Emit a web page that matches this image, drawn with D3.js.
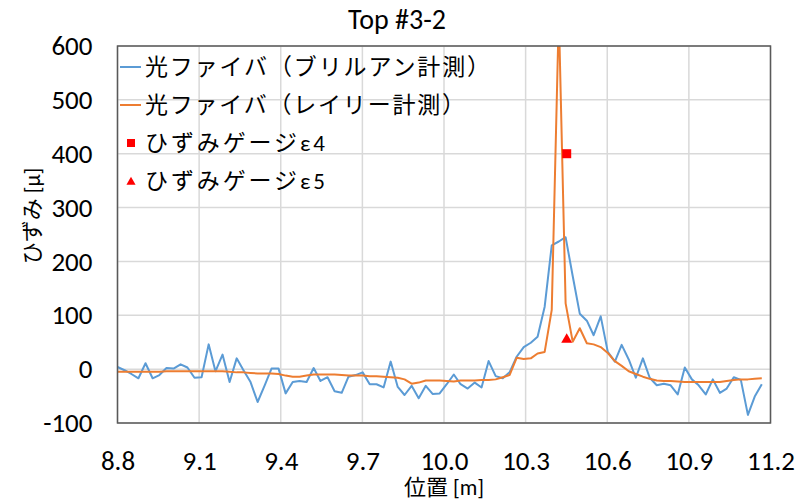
<!DOCTYPE html>
<html>
<head>
	<meta charset="utf-8"/>
	<title>Top #3-2</title>
	<script src="https://cdn.jsdelivr.net/npm/d3@7/dist/d3.min.js"></script>
	<style>
		body{ margin:0; background:#fff; }
		text{ font-family: Carlito, Lato, "Noto Sans CJK JP", sans-serif; fill:#000; }
	</style>
</head>
<body>
<script>
// distance along fibre [m]
var dist = [8.800,8.826,8.851,8.877,8.903,8.929,8.954,8.980,9.006,9.032,
	9.057,9.083,9.109,9.135,9.160,9.186,9.212,9.238,9.263,9.289,
	9.315,9.341,9.366,9.392,9.418,9.444,9.469,9.495,9.521,9.546,
	9.572,9.598,9.624,9.649,9.675,9.701,9.727,9.752,9.778,9.804,
	9.830,9.855,9.881,9.907,9.933,9.958,9.984,10.010,10.036,10.061,
	10.087,10.113,10.138,10.164,10.190,10.216,10.241,10.267,10.293,10.319,
	10.344,10.370,10.396,10.422,10.447,10.473,10.499,10.525,10.550,10.576,
	10.602,10.628,10.653,10.679,10.705,10.731,10.756,10.782,10.808,10.833,
	10.859,10.885,10.911,10.936,10.962,10.988,11.014,11.039,11.065,11.091,
	11.117,11.142,11.168];

// Brillouin
var brillouin = [4,-2,-9,-17,11,-17,-11,2,1,9,
	3,-16,-15,46,-4,27,-24,20,-2,-24,
	-61,-30,1,1,-45,-24,-22,-24,2,-22,
	-15,-41,-44,-14,-11,-6,-28,-28,-34,14,
	-33,-48,-31,-54,-31,-46,-45,-28,-10,-28,
	-36,-25,-34,15,-13,-17,-6,23,41,49,
	60,116,230,237,245,173,103,90,63,98,
	32,14,45,18,-16,20,-16,-30,-27,-30,
	-47,3,-19,-30,-47,-19,-44,-36,-15,-20,
	-85,-51,-28];

// Rayleigh
var rayleigh = [-5,-5,-5,-5,-5,-5,-5,-4,-4,-4,
	-4,-4,-4,-4,-4,-4,-5,-6,-6,-7,
	-8,-8,-8,-9,-12,-14,-14,-12,-10,-10,
	-10,-10,-11,-12,-12,-12,-13,-13,-14,-15,
	-16,-19,-27,-25,-21,-21,-21,-22,-23,-21,
	-21,-21,-20,-20,-19,-15,-11,21,19,20,
	29,32,110,660,122,51,76,48,46,41,
	30,15,6,-4,-9,-14,-18,-21,-22,-22,
	-23,-24,-24,-24,-24,-24,-24,-22,-20,-19,
	-19,-18,-17];

// strain gauges
var gaugeE4 = [{x:10.451, y:400}];
var gaugeE5 = [{x:10.451, y:56}];

var xTicks = [8.8,9.1,9.4,9.7,10.0,10.3,10.6,10.9,11.2];
var yTicks = [-100,0,100,200,300,400,500,600];

var legendNames = ["光ファイバ（ブリルアン計測）","光ファイバ（レイリー計測）","ひずみゲージε4","ひずみゲージε5"];

var W=795, H=501;
var L=117.5, R=770.5, T=46, B=423;

var svg = d3.select('body').append('svg')
	.attr('width',W)
	.attr('height',H);

var x = d3.scaleLinear().domain([8.8,11.2]).range([L,R]);
var y = d3.scaleLinear().domain([-100,600]).range([B,T]);

// grid
svg.append('g').selectAll('line.h').data(yTicks)
	.enter().append('line')
	.attr('x1',L).attr('x2',R)
	.attr('y1',function(d){return y(d);})
	.attr('y2',function(d){return y(d);})
	.attr('stroke','#d9d9d9').attr('stroke-width',1.5);
svg.append('g').selectAll('line.v').data(xTicks)
	.enter().append('line')
	.attr('y1',T).attr('y2',B)
	.attr('x1',function(d){return x(d);})
	.attr('x2',function(d){return x(d);})
	.attr('stroke','#d9d9d9').attr('stroke-width',1.5);

// axes (labels only)
var xAxis = svg.append('g')
	.attr('transform','translate(0,'+B+')')
	.call(d3.axisBottom(x).tickValues(xTicks).tickSize(0).tickPadding(28).tickFormat(function(d){return d.toFixed(1);}));
var yAxis = svg.append('g')
	.attr('transform','translate('+L+',0)')
	.call(d3.axisLeft(y).tickValues(yTicks).tickSize(0).tickPadding(25).tickFormat(function(d){return String(d);}));
[xAxis,yAxis].forEach(function(a){
	a.select('.domain').remove();
	a.selectAll('text').style('font-size','27px').attr('font-family',null);
});

svg.append('clipPath').attr('id','plot')
	.append('rect').attr('x',L).attr('y',T).attr('width',R-L).attr('height',B-T);

var line = function(vals){
	return d3.line()
		.x(function(d,i){return x(dist[i]);})
		.y(function(d){return y(d);})(vals);
};

var g = svg.append('g').attr('clip-path','url(#plot)');
g.append('path').attr('d',line(brillouin))
	.attr('fill','none').attr('stroke','#5b9bd5').attr('stroke-width',2).attr('stroke-linejoin','round');
g.append('path').attr('d',line(rayleigh))
	.attr('fill','none').attr('stroke','#ed7d31').attr('stroke-width',2).attr('stroke-linejoin','round');

svg.selectAll('rect.e4').data(gaugeE4)
	.enter().append('rect')
	.attr('x',function(d){return x(d.x)-4.5;})
	.attr('y',function(d){return y(d.y)-4.5;})
	.attr('width',9).attr('height',9)
	.attr('fill','#ff0000');
svg.selectAll('path.e5').data(gaugeE5)
	.enter().append('path')
	.attr('d',d3.symbol().type(d3.symbolTriangle).size(52))
	.attr('transform',function(d){return 'translate('+x(d.x)+','+(y(d.y)+0.5)+')';})
	.attr('fill','#ff0000');

// frame
svg.append('rect')
	.attr('x',L).attr('y',T).attr('width',R-L).attr('height',B-T)
	.attr('fill','none').attr('stroke','#595959').attr('stroke-width',1.5);

// title & axis titles
svg.append('text').attr('x',397).attr('y',29).attr('text-anchor','middle')
	.style('font-size','28px').text('Top #3-2');
svg.append('text').attr('x',444).attr('y',495).attr('text-anchor','middle')
	.style('font-size','22px').text('位置 [m]');
svg.append('text')
	.attr('transform','translate(40,216) rotate(-90)')
	.attr('text-anchor','middle')
	.style('font-size','22px').text('ひずみ [μ]');

// legend
var legY = [67,105,143,181];
var leg = svg.append('g');
var lens = [345,320,180,180];
legendNames.forEach(function(name,i){
	var cy = legY[i];
	if(i<2){
		leg.append('line').attr('x1',120).attr('x2',141).attr('y1',cy).attr('y2',cy)
			.attr('stroke',i==0?'#5b9bd5':'#ed7d31').attr('stroke-width',2);
	}else if(i==2){
		leg.append('rect').attr('x',127).attr('y',cy-4).attr('width',8).attr('height',8).attr('fill','#ff0000');
	}else{
		leg.append('path').attr('d',d3.symbol().type(d3.symbolTriangle).size(36))
			.attr('transform','translate(131,'+(cy+1)+')').attr('fill','#ff0000');
	}
	leg.append('text').attr('x',145).attr('y',cy+8)
		.style('font-size','23px')
		.attr('textLength',lens[i]).attr('lengthAdjust','spacing')
		.text(name);
});
</script>
</body>
</html>
